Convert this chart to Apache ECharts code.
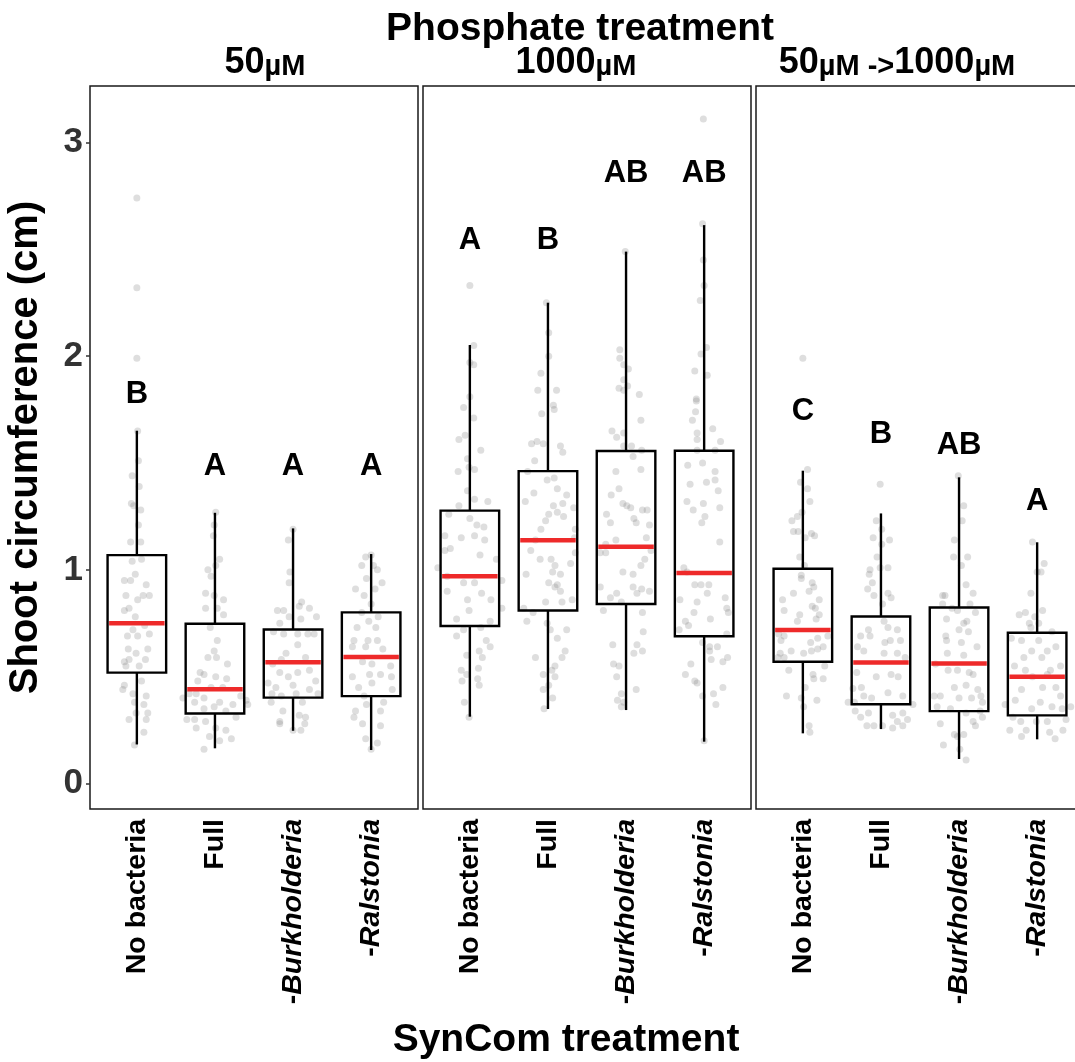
<!DOCTYPE html>
<html>
<head>
<meta charset="utf-8">
<script src="https://cdn.jsdelivr.net/npm/echarts@6/dist/echarts.min.js"></script>
<style>
  html, body { margin: 0; padding: 0; background: #fff; }
  #chart { width: 1075px; height: 1062px; }
</style>
</head>
<body>
<div id="chart"></div>
<script>
// ---- data ---------------------------------------------------------------
const categories = ['No bacteria', 'Full', '-Burkholderia', '-Ralstonia'];
const panels = ['50µM', '1000µM', '50µM ->1000µM'];
const yTicks = [0, 1, 2, 3];

// box statistics per category: [lower whisker, Q1, median, Q3, upper whisker]
const stats50 = [
  [0.183, 0.519, 0.750, 1.069, 1.651],
  [0.165, 0.328, 0.441, 0.748, 1.267],
  [0.247, 0.402, 0.568, 0.721, 1.194],
  [0.157, 0.409, 0.592, 0.801, 1.074]
];
const stats1000 = [
  [0.313, 0.737, 0.970, 1.277, 2.052],
  [0.349, 0.810, 1.139, 1.462, 2.250],
  [0.344, 0.840, 1.108, 1.556, 2.489],
  [0.196, 0.689, 0.985, 1.557, 2.613]
];
const statsShift = [
  [0.235, 0.570, 0.718, 1.005, 1.464],
  [0.255, 0.371, 0.567, 0.782, 1.264],
  [0.115, 0.339, 0.562, 0.824, 1.433],
  [0.207, 0.319, 0.500, 0.706, 1.129]
];

// compact letter display and the height it is written at
const letters50 = ['B', 'A', 'A', 'A'];
const letterY50 = [1.82, 1.485, 1.485, 1.485];
const letters1000 = ['A', 'B', 'AB', 'AB'];
const letterY1000 = [2.54, 2.54, 2.857, 2.857];
const lettersShift = ['C', 'B', 'AB', 'A'];
const letterYShift = [1.74, 1.635, 1.58, 1.322];

// individual plants: [jitter offset (category units), circumference cm]
const plants50 = [
  [[0,2.74],[0,2.32],[0,1.99],[0.01,1.65],[0.02,1.51],[-0.06,1.44],[0.03,1.39],[-0.04,1.30],[0.05,1.28],[-0.07,1.31],[0.02,1.21],[-0.08,1.13],[0.05,1.13],[-0.06,1.04],[0.06,1.05],[-0.16,0.95],[-0.08,0.95],[-0.14,0.88],[0.01,0.86],[0.08,0.88],[0.16,0.88],[-0.16,0.81],[-0.1,0.82],[-0.02,0.78],[-0.12,0.69],[0.01,0.69],[0.16,0.70],[-0.11,0.63],[0.14,0.63],[-0.01,0.61],[-0.1,0.58],[0.11,0.58],[-0.14,0.55],[0.03,0.55],[-0.16,0.57],[0.1,0.74],[-0.05,0.72],[0.12,0.93],[-0.02,0.98],[-0.18,0.44],[-0.05,0.42],[0.12,0.41],[-0.03,0.38],[0.09,0.37],[-0.01,0.33],[0.14,0.33],[-0.1,0.30],[0.12,0.30],[0.09,0.24],[-0.03,0.18],[-0.16,0.46],[0.06,0.48]],
  [[0.01,1.27],[-0.01,1.21],[-0.02,1.16],[0.06,1.05],[0.01,1.02],[-0.09,1.00],[-0.05,0.97],[-0.12,0.89],[-0.01,0.88],[0.11,0.86],[-0.12,0.82],[0.03,0.82],[0.11,0.79],[-0.06,0.73],[0.03,0.67],[-0.01,0.62],[0.02,0.59],[0.16,0.56],[-0.09,0.59],[-0.19,0.52],[-0.14,0.51],[0.01,0.50],[0.15,0.49],[0.10,0.45],[-0.22,0.48],[-0.05,0.45],[-0.33,0.42],[-0.24,0.42],[-0.14,0.40],[0.33,0.41],[0.40,0.39],[-0.41,0.40],[-0.26,0.38],[0.06,0.38],[0.23,0.37],[0.42,0.37],[-0.14,0.35],[-0.01,0.36],[0.14,0.34],[0.27,0.31],[-0.36,0.30],[-0.26,0.30],[-0.12,0.29],[0.01,0.26],[0.14,0.25],[0.21,0.21],[-0.24,0.26],[-0.07,0.22],[-0.14,0.16],[0.06,0.20]],
  [[0,1.19],[-0.06,1.14],[-0.04,0.99],[-0.05,0.94],[-0.2,0.81],[-0.12,0.81],[0.08,0.83],[0.11,0.85],[0.21,0.82],[0.30,0.78],[-0.17,0.75],[-0.05,0.78],[0.10,0.77],[-0.25,0.71],[-0.12,0.70],[0.06,0.70],[0.19,0.70],[0.27,0.70],[0.06,0.65],[-0.09,0.61],[-0.26,0.56],[-0.15,0.58],[0.16,0.59],[-0.17,0.52],[-0.06,0.50],[0.06,0.52],[0.21,0.53],[0.29,0.48],[-0.32,0.47],[-0.22,0.45],[0,0.46],[0.21,0.44],[-0.27,0.42],[-0.15,0.41],[0.04,0.42],[0.32,0.42],[-0.28,0.38],[0.12,0.38],[-0.13,0.34],[0.08,0.32],[0.16,0.31],[-0.17,0.29],[0.15,0.28],[0.10,0.25],[0,0.25],[-0.17,0.28]],
  [[0,1.07],[-0.12,1.02],[0.03,1.02],[-0.07,1.06],[0.08,1.00],[0.14,0.94],[-0.06,0.96],[-0.20,0.91],[0.05,0.91],[-0.09,0.88],[0,0.84],[-0.12,0.80],[0.09,0.78],[-0.03,0.76],[-0.18,0.73],[0.06,0.73],[-0.22,0.67],[-0.04,0.67],[0.08,0.67],[-0.24,0.64],[-0.07,0.64],[0.15,0.63],[-0.11,0.57],[0.01,0.56],[0.25,0.55],[-0.24,0.50],[-0.02,0.51],[0.12,0.51],[0.26,0.50],[-0.16,0.45],[0.01,0.47],[0.27,0.44],[-0.09,0.41],[0.16,0.38],[-0.06,0.37],[-0.20,0.34],[0.12,0.34],[-0.22,0.31],[-0.11,0.28],[0.12,0.27],[-0.07,0.21],[0.08,0.19],[0,0.16]]
];
const plants1000 = [
  [[0,2.33],[0.05,2.05],[0,1.97],[0.05,1.96],[0,1.81],[-0.08,1.76],[0.05,1.71],[-0.14,1.61],[-0.06,1.63],[0.14,1.56],[-0.03,1.52],[-0.01,1.48],[-0.15,1.46],[0.06,1.47],[-0.03,1.37],[0.06,1.33],[0.23,1.32],[-0.14,1.30],[-0.27,1.26],[0,1.24],[0.09,1.21],[0.18,1.20],[-0.32,1.16],[-0.11,1.15],[0.06,1.16],[0.19,1.14],[-0.25,1.10],[-0.32,1.09],[0.13,1.07],[0.34,1.05],[-0.41,1.01],[-0.29,0.97],[-0.08,0.94],[0.06,0.94],[0.41,0.95],[-0.29,0.90],[0.15,0.89],[-0.03,0.86],[0.27,0.86],[-0.01,0.81],[0.41,0.82],[-0.17,0.77],[0.26,0.76],[-0.08,0.72],[0.14,0.73],[-0.17,0.69],[0.21,0.67],[0.26,0.64],[-0.04,0.60],[0.12,0.62],[0.16,0.59],[-0.11,0.53],[0.11,0.54],[-0.04,0.51],[-0.10,0.48],[0.10,0.49],[0.12,0.46],[-0.07,0.38],[-0.01,0.31]],
  [[-0.02,2.25],[0.01,2.11],[0.01,2.00],[-0.09,1.92],[-0.13,1.84],[0.11,1.84],[0.07,1.77],[0.08,1.75],[-0.08,1.73],[-0.21,1.59],[-0.14,1.60],[-0.06,1.59],[0.16,1.58],[0.19,1.55],[-0.17,1.51],[-0.26,1.46],[-0.01,1.42],[0.08,1.43],[-0.18,1.36],[0.12,1.38],[0.24,1.35],[-0.29,1.32],[0.07,1.30],[0.19,1.31],[0.33,1.29],[0.01,1.26],[0.12,1.27],[0.20,1.25],[-0.03,1.23],[-0.09,1.19],[0.35,1.19],[0.34,1.15],[-0.16,1.14],[-0.22,1.09],[0.35,1.08],[0.04,1.05],[-0.10,1.05],[0.09,1.02],[0.29,1.03],[-0.28,0.98],[0.06,0.99],[0.16,0.98],[0.01,0.94],[0.12,0.93],[0.09,0.92],[0.16,0.90],[-0.03,0.85],[0.18,0.85],[0.31,0.86],[-0.31,0.82],[-0.19,0.80],[-0.27,0.76],[-0.01,0.75],[0.03,0.72],[0.24,0.72],[0.12,0.68],[0.22,0.62],[-0.16,0.59],[0.18,0.59],[0.09,0.55],[0.05,0.53],[-0.06,0.51],[0.09,0.50],[0.01,0.46],[-0.06,0.44],[0.06,0.40],[-0.05,0.35]],
  [[-0.01,2.49],[-0.08,2.03],[-0.08,1.99],[-0.03,1.96],[0.03,1.94],[-0.03,1.89],[-0.09,1.85],[0.02,1.86],[0.17,1.82],[-0.03,1.84],[-0.03,1.64],[-0.18,1.65],[-0.12,1.62],[0.19,1.70],[-0.03,1.58],[0.07,1.58],[0.20,1.56],[0.09,1.53],[-0.13,1.46],[0.19,1.47],[-0.09,1.38],[-0.19,1.35],[-0.04,1.31],[0.01,1.30],[0.06,1.29],[0.21,1.28],[0.27,1.28],[-0.25,1.26],[0.10,1.24],[-0.20,1.22],[0.30,1.21],[0.13,1.22],[0.26,1.15],[-0.13,1.14],[-0.26,1.12],[-0.33,1.08],[-0.26,1.08],[0.32,1.09],[0.24,1.05],[0.19,1.02],[-0.04,0.99],[0.09,0.98],[-0.33,0.92],[0.09,0.92],[0.20,0.91],[0.30,0.90],[-0.20,0.87],[-0.12,0.89],[0.14,0.89],[-0.06,0.85],[-0.29,0.81],[0.21,0.80],[0.22,0.71],[-0.17,0.65],[0.14,0.65],[0.10,0.61],[0.21,0.62],[-0.16,0.56],[-0.09,0.55],[-0.12,0.50],[0.13,0.44],[-0.06,0.42],[-0.11,0.39],[-0.03,0.38],[-0.06,0.36]],
  [[-0.01,3.11],[-0.02,2.62],[-0.01,2.45],[0,2.33],[-0.05,2.26],[0.03,2.04],[-0.04,2.01],[-0.12,1.93],[0.04,1.91],[-0.10,1.80],[-0.10,1.79],[-0.11,1.74],[-0.15,1.70],[-0.09,1.64],[-0.09,1.61],[0.11,1.66],[0.21,1.60],[0.14,1.56],[-0.09,1.56],[-0.21,1.49],[-0.02,1.50],[0.14,1.46],[0.03,1.41],[0.14,1.42],[-0.18,1.40],[0.18,1.37],[-0.22,1.32],[-0.01,1.31],[-0.14,1.28],[0.20,1.29],[0.01,1.25],[-0.03,1.22],[0.20,1.13],[-0.26,1.01],[-0.22,0.99],[-0.12,0.93],[-0.04,0.93],[0.06,0.93],[0.04,0.89],[-0.31,0.86],[-0.09,0.85],[0.27,0.87],[-0.13,0.80],[0.29,0.82],[0.31,0.80],[0.08,0.77],[-0.24,0.76],[-0.20,0.74],[-0.32,0.72],[0.29,0.70],[-0.02,0.66],[0.07,0.64],[0.17,0.64],[0.07,0.62],[0.30,0.59],[0.09,0.58],[0.24,0.57],[-0.17,0.56],[-0.24,0.51],[-0.12,0.48],[-0.09,0.47],[0.24,0.45],[-0.02,0.41],[0.12,0.42],[0.15,0.37],[0,0.20]]
];
const plantsShift = [
  [[0,1.99],[0.06,1.47],[-0.03,1.41],[0.06,1.38],[0.09,1.32],[-0.01,1.27],[-0.07,1.25],[-0.14,1.23],[-0.12,1.18],[-0.06,1.18],[0.11,1.17],[0.15,1.16],[0.03,1.15],[-0.04,1.06],[0.02,1.02],[-0.02,0.975],[-0.02,0.96],[0.12,0.94],[0.14,0.92],[-0.12,0.89],[0.08,0.90],[0.21,0.86],[-0.26,0.86],[0.12,0.83],[-0.24,0.81],[0.16,0.82],[-0.04,0.79],[0.21,0.79],[-0.07,0.76],[0.17,0.77],[-0.31,0.70],[-0.24,0.69],[-0.28,0.67],[0.10,0.66],[0.19,0.68],[0.32,0.69],[0.01,0.61],[0.11,0.62],[-0.15,0.62],[0.19,0.63],[-0.29,0.61],[0.26,0.64],[-0.32,0.59],[-0.24,0.59],[0.28,0.55],[-0.18,0.53],[0.13,0.51],[0.26,0.49],[0.14,0.49],[0.03,0.45],[-0.21,0.41],[-0.02,0.40],[0.18,0.39],[0.01,0.36],[0.08,0.27],[0.09,0.24]],
  [[-0.01,1.40],[-0.06,1.23],[0.01,1.19],[0.11,1.14],[-0.10,1.15],[0.01,1.12],[-0.05,1.06],[-0.01,1.01],[0.09,1.01],[-0.14,1.00],[-0.15,0.98],[-0.11,0.94],[-0.17,0.91],[-0.09,0.88],[0.09,0.89],[0.13,0.87],[0.02,0.84],[0.04,0.76],[-0.16,0.72],[0.09,0.73],[0.21,0.72],[0.25,0.67],[-0.26,0.69],[-0.14,0.69],[-0.30,0.64],[-0.22,0.62],[0.05,0.66],[0.12,0.67],[0.04,0.61],[0.21,0.61],[0.31,0.59],[-0.31,0.52],[-0.06,0.50],[0.13,0.51],[0.22,0.50],[-0.36,0.445],[-0.25,0.45],[0.09,0.425],[0.28,0.41],[-0.42,0.38],[-0.34,0.38],[-0.22,0.41],[-0.12,0.40],[0.41,0.37],[-0.33,0.34],[-0.26,0.31],[-0.16,0.33],[0.15,0.32],[0.28,0.33],[0.34,0.30],[0.21,0.29],[-0.18,0.27],[-0.09,0.27],[0.02,0.27],[0.15,0.26],[0.28,0.27]],
  [[-0.01,1.44],[0.06,1.30],[0.04,1.23],[-0.06,1.14],[-0.07,1.06],[0.11,1.06],[0.03,1.02],[0.09,0.93],[-0.21,0.88],[-0.18,0.88],[0.18,0.89],[-0.21,0.84],[0.14,0.84],[-0.09,0.82],[-0.02,0.81],[0.21,0.80],[-0.16,0.77],[0.06,0.75],[0.10,0.76],[0,0.72],[0.12,0.71],[-0.17,0.69],[-0.16,0.67],[0.03,0.66],[0.23,0.64],[-0.15,0.61],[0.06,0.60],[-0.30,0.56],[-0.02,0.53],[-0.14,0.53],[0.13,0.52],[0.18,0.51],[0.09,0.46],[-0.06,0.45],[0.24,0.44],[-0.32,0.41],[-0.24,0.41],[0,0.40],[0.28,0.41],[0.16,0.40],[0.30,0.38],[-0.28,0.36],[-0.11,0.35],[0.27,0.34],[0.09,0.33],[0.30,0.31],[0.18,0.29],[0.21,0.27],[-0.24,0.28],[-0.06,0.23],[0.06,0.23],[-0.02,0.22],[-0.20,0.18],[0.01,0.16],[0.09,0.11]],
  [[-0.06,1.13],[0.09,1.03],[0,0.99],[0.05,0.99],[-0.08,0.89],[0.07,0.81],[-0.23,0.79],[-0.15,0.80],[-0.03,0.78],[-0.10,0.75],[0.02,0.75],[-0.08,0.73],[0.19,0.71],[-0.33,0.68],[-0.20,0.67],[0.02,0.67],[0.24,0.64],[-0.07,0.62],[0.13,0.62],[-0.17,0.59],[0.06,0.59],[-0.29,0.55],[-0.15,0.53],[0.17,0.53],[0.30,0.55],[-0.06,0.50],[0.13,0.51],[-0.20,0.44],[0.07,0.45],[0.24,0.45],[0.30,0.41],[-0.28,0.39],[-0.07,0.35],[0.04,0.38],[0.19,0.36],[0.32,0.35],[-0.41,0.37],[0.43,0.36],[-0.31,0.31],[-0.21,0.29],[-0.01,0.29],[0.13,0.29],[0.37,0.30],[-0.35,0.25],[-0.14,0.25],[0.16,0.24],[0.33,0.25],[0.23,0.21],[-0.20,0.22]]
];

// ---- chart --------------------------------------------------------------
const FONT = '"Liberation Sans", Arial, Helvetica, sans-serif';
const Y_MIN = -0.119, Y_MAX = 3.264;
const BOX_HALF = 0.375;

const panelStats = [stats50, stats1000, statsShift];
const panelLetters = [letters50, letters1000, lettersShift];
const panelLetterY = [letterY50, letterY1000, letterYShift];
const panelPlants = [plants50, plants1000, plantsShift];
const panelLeft = [90, 423, 756];
const panelWidth = 328;

function catLabel(v) {
  const name = categories[Math.round(v) - 1] || '';
  if (name.charAt(0) === '-') return '{n|-}{i|' + name.slice(1) + '}';
  return '{n|' + name + '}';
}

function renderBox(params, api) {
  const x = api.value(0);
  const lo = api.value(1), q1 = api.value(2), md = api.value(3), q3 = api.value(4), hi = api.value(5);
  const tl = api.coord([x - BOX_HALF, q3]);
  const br = api.coord([x + BOX_HALF, q1]);
  const pHi = api.coord([x, hi]), pQ3 = api.coord([x, q3]);
  const pQ1 = api.coord([x, q1]), pLo = api.coord([x, lo]);
  const mL = api.coord([x - BOX_HALF + 0.02, md]), mR = api.coord([x + BOX_HALF - 0.02, md]);
  const black = { stroke: '#000', lineWidth: 2.4, fill: null };
  return {
    type: 'group',
    children: [
      { type: 'line', shape: { x1: pHi[0], y1: pHi[1], x2: pQ3[0], y2: pQ3[1] }, style: black },
      { type: 'line', shape: { x1: pQ1[0], y1: pQ1[1], x2: pLo[0], y2: pLo[1] }, style: black },
      { type: 'rect', shape: { x: tl[0], y: tl[1], width: br[0] - tl[0], height: br[1] - tl[1] }, style: black },
      { type: 'line', shape: { x1: mL[0], y1: mL[1], x2: mR[0], y2: mR[1] }, style: { stroke: '#EE2A2A', lineWidth: 4.5 } }
    ]
  };
}

const grid = [], xAxis = [], yAxis = [], series = [];
panels.forEach((p, k) => {
  grid.push({
    left: panelLeft[k], top: 86, width: panelWidth, height: 723,
    outerBoundsMode: 'none', containLabel: false,
    show: true, borderColor: '#1a1a1a', borderWidth: 1.5, backgroundColor: 'transparent'
  });
  xAxis.push({
    type: 'value', gridIndex: k, min: 0.4, max: 4.6,
    axisLine: { show: false }, axisTick: { show: false }, splitLine: { show: false },
    axisLabel: {
      customValues: [1, 2, 3, 4], rotate: 90, margin: 10,
      formatter: catLabel,
      rich: {
        n: { fontFamily: FONT, fontSize: 28.5, fontWeight: 'bold', color: '#000' },
        i: { fontFamily: FONT, fontSize: 28.5, fontWeight: 'bold', fontStyle: 'italic', color: '#000' }
      }
    }
  });
  const first = k === 0;
  yAxis.push({
    type: 'value', gridIndex: k, min: Y_MIN, max: Y_MAX,
    splitLine: { show: false }, axisLine: { show: false },
    axisTick: first ? { show: true, customValues: yTicks, length: 4, lineStyle: { color: '#333', width: 1.5 } } : { show: false },
    axisLabel: first ? { customValues: yTicks, fontFamily: FONT, fontSize: 35, fontWeight: 'bold', color: '#333', margin: 7 } : { show: false },
    name: first ? 'Shoot circumference (cm)' : '',
    nameLocation: 'middle', nameRotate: 90, nameGap: 44,
    nameTextStyle: { fontFamily: FONT, fontSize: 40, fontWeight: 'bold', color: '#000' }
  });

  series.push({
    type: 'scatter', xAxisIndex: k, yAxisIndex: k, silent: true, z: 2,
    symbol: 'circle', symbolSize: 7,
    itemStyle: { color: 'rgba(120,120,120,0.3)' },
    data: panelPlants[k].flatMap((g, i) => g.map(([dx, v]) => [i + 1 + dx, v]))
  });
  series.push({
    type: 'custom', xAxisIndex: k, yAxisIndex: k, silent: true, z: 3,
    renderItem: renderBox,
    encode: { x: 0, y: [1, 2, 3, 4, 5] },
    data: panelStats[k].map((s, i) => [i + 1].concat(s))
  });
  const lt = panelLetters[k], ly = panelLetterY[k];
  series.push({
    type: 'custom', xAxisIndex: k, yAxisIndex: k, silent: true, z: 4,
    renderItem: (params, api) => {
      const c = api.coord([api.value(0), api.value(1)]);
      return {
        type: 'text', x: c[0], y: c[1],
        style: { text: lt[params.dataIndex], fontFamily: FONT, fontSize: 31, fontWeight: 'bold',
                 fill: '#000', align: 'center', verticalAlign: 'middle' }
      };
    },
    encode: { x: 0, y: 1 },
    data: ly.map((v, i) => [i + 1, v])
  });
});

// strip labels: number in large type, unit in smaller type
function stripRich(text) {
  return text.replace(/(\d+)/g, '{d|$1}').replace(/µM/g, '{u|µM}').replace(/ ->/g, '{u| ->}');
}
const stripX = [265, 576, 897];
const graphic = [
  {
    type: 'text', x: 580, y: 29,
    style: { text: 'Phosphate treatment', fontFamily: FONT, fontSize: 39, fontWeight: 'bold',
             fill: '#000', align: 'center', verticalAlign: 'middle' }
  },
  {
    type: 'text', x: 566, y: 1040,
    style: { text: 'SynCom treatment', fontFamily: FONT, fontSize: 39, fontWeight: 'bold',
             fill: '#000', align: 'center', verticalAlign: 'middle' }
  }
];
panels.forEach((p, k) => {
  graphic.push({
    type: 'text', x: stripX[k], y: 81,
    style: {
      text: stripRich(p), align: 'center', verticalAlign: 'bottom',
      rich: {
        d: { fontFamily: FONT, fontSize: 36, fontWeight: 'bold', fill: '#000', verticalAlign: 'bottom' },
        u: { fontFamily: FONT, fontSize: 29, fontWeight: 'bold', fill: '#000', verticalAlign: 'bottom' }
      }
    }
  });
});

const chart = echarts.init(document.getElementById('chart'), null, { renderer: 'canvas' });
chart.setOption({
  animation: false,
  backgroundColor: '#fff',
  grid, xAxis, yAxis, series, graphic
});
</script>
</body>
</html>
